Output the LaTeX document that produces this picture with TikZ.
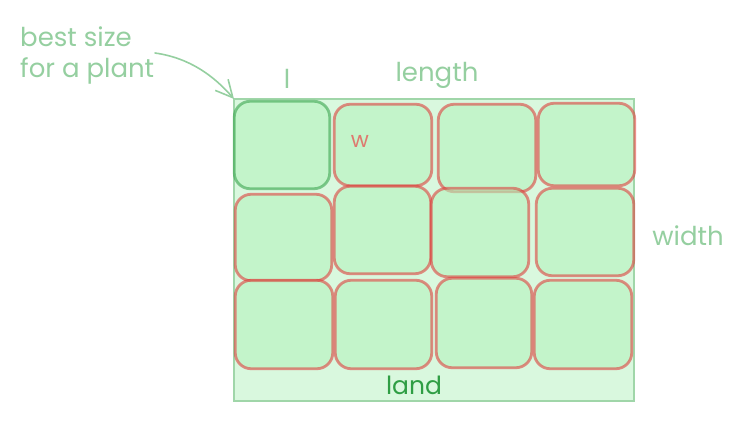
\documentclass[tikz,border=0pt]{standalone}
\usepackage{fontspec}
\setmainfont{Poppins}
\usetikzlibrary{arrows.meta}
\definecolor{landfill}{HTML}{D9F8DE}
\definecolor{landline}{HTML}{A0D6A9}
\definecolor{tilefill}{HTML}{B2F2BB}
\definecolor{redline}{HTML}{E03131}
\definecolor{greenline}{HTML}{2F9E44}
\definecolor{notegreen}{HTML}{95CFA0}
\definecolor{wred}{HTML}{DE7A6F}
\begin{document}
\begin{tikzpicture}[x=1pt,y=-1pt,
  land/.style={draw=landline, fill=landfill, line width=2.5pt, inner sep=0pt, outer sep=0pt},
  tile/.style={draw=redline, draw opacity=0.55, fill=tilefill, fill opacity=0.55, line width=2.8pt, rounded corners=16pt, inner sep=0pt, outer sep=0pt},
  besttile/.style={tile, draw=greenline, draw opacity=0.55},
  note/.style={text=notegreen, font=\fontsize{26}{31}\selectfont, inner sep=0pt},
  wlabel/.style={text=wred, font=\fontsize{22}{26}\selectfont, inner sep=0pt},
  landlabel/.style={text=greenline, font=\fontsize{25}{30}\selectfont, inner sep=0pt},
  pointer/.style={draw=notegreen, line width=1.6pt, line cap=round, -{Straight Barb[length=17pt,width=17pt,line width=1.6pt]}}
]
\useasboundingbox (0,0) rectangle (756,436);
% land
\node[land, minimum width=400pt, minimum height=302pt] (land) at (434,250) {};
% tiles
\node[besttile, minimum width=95.5pt, minimum height=87.5pt] (g11) at (282,145) {};
\node[tile, minimum width=97.5pt, minimum height=81.5pt] (t12) at (383,145) {};
\node[tile, minimum width=97.5pt, minimum height=87.5pt] (t13) at (487,148) {};
\node[tile, minimum width=96.5pt, minimum height=82.5pt] (t14) at (586.5,144.5) {};
\node[tile, minimum width=96.5pt, minimum height=86.5pt] (t21) at (283.5,237.5) {};
\node[tile, minimum width=96.5pt, minimum height=87.5pt] (t22) at (382.5,230) {};
\node[tile, minimum width=97.5pt, minimum height=88.5pt] (t23) at (480,232.5) {};
\node[tile, minimum width=97.5pt, minimum height=87.5pt] (t24) at (585,232) {};
\node[tile, minimum width=97.5pt, minimum height=88.5pt] (t31) at (284,324.5) {};
\node[tile, minimum width=96.5pt, minimum height=88.5pt] (t32) at (383.5,324.5) {};
\node[tile, minimum width=95.5pt, minimum height=89.5pt] (t33) at (484,323) {};
\node[tile, minimum width=97.5pt, minimum height=88.5pt] (t34) at (583,324.5) {};
% labels
\node[note] (lbl) at (287,79) {l};
\node[note] (lengthlbl) at (437,75) {length};
\node[wlabel] (wlbl) at (360,141) {w};
\node[note] (widthlbl) at (688,236) {width};
\node[landlabel] (landlbl) at (414,385) {land};
\node[note, anchor=north west, align=left] (best) at (20,27) {best size\\for a plant};
% pointer
\coordinate (pstart) at (155,53);
\draw[pointer] (pstart) .. controls (190,58) and (214,76) .. (land.north west);
\end{tikzpicture}
\end{document}
